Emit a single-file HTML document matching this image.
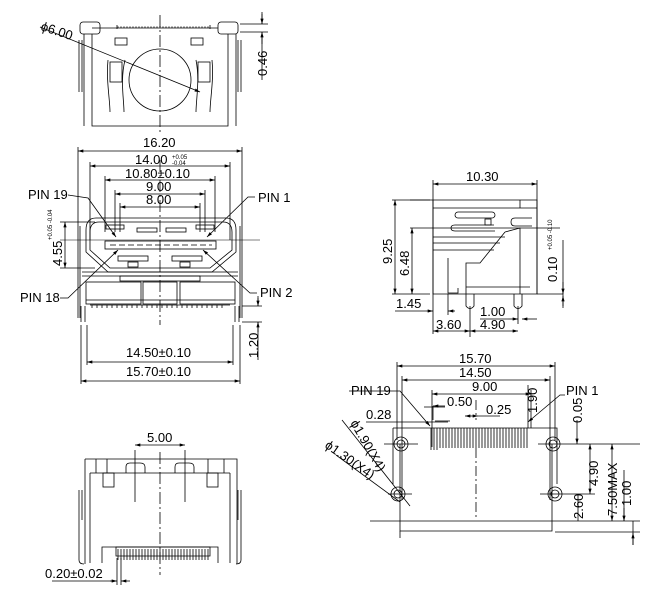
<!DOCTYPE html>
<html><head><meta charset="utf-8"><style>
html,body{margin:0;padding:0;background:#fff}
svg{display:block}
text{font-family:"Liberation Sans",sans-serif;fill:#000}
</style></head><body>
<svg width="656" height="599" viewBox="0 0 656 599" xmlns="http://www.w3.org/2000/svg">
<defs>
<marker id="a" viewBox="0 0 10 6" refX="10" refY="3" markerWidth="8" markerHeight="4" orient="auto-start-reverse"><path d="M0,0L10,3L0,6z" fill="#000"/></marker>
</defs>
<g stroke="#000" stroke-width="0.8" fill="none">
<!-- TOP VIEW -->
<rect x="80" y="22" width="20" height="12" rx="3"/>
<rect x="218" y="22" width="20" height="12" rx="3"/>
<path d="M92 28H218M92 34V126H228V34M84 34V126M236 34V126"/>
<path d="M79 40V92M82 40V92M238 40V92M241 40V92"/>
<path d="M117 25V29M210 25V29" />
<g stroke-width="0.6"><path d="M117 27H210" stroke-dasharray="2 1"/></g>
<rect x="115" y="38" width="12" height="7"/><rect x="191" y="38" width="12" height="7"/>
<path d="M108 60C106 80 110 100 110 112M125 60C120 80 124 100 124 112M196 60C200 80 196 100 196 112M212 60C214 80 210 100 210 112"/>
<rect x="110" y="62" width="12" height="20"/><rect x="198" y="62" width="12" height="20"/>
<circle cx="160" cy="80" r="31"/>
<path d="M160 15V135" stroke-dasharray="12 3 2 3"/>
<path d="M40 27L200 92" marker-end="url(#a)"/>
<path d="M240 24H268M240 32H268M262 12V24M262 32V80" />
<path d="M262 14V24" marker-end="url(#a)"/><path d="M262 44V32" marker-end="url(#a)"/>

<!-- FRONT VIEW -->
<path d="M78 151H242" marker-start="url(#a)" marker-end="url(#a)"/>
<path d="M78 147V318M242 147V318"/>
<path d="M90 166H230" marker-start="url(#a)" marker-end="url(#a)"/>
<path d="M90 162V240M230 162V240"/>
<path d="M105 180H215" marker-start="url(#a)" marker-end="url(#a)"/>
<path d="M105 176V232M215 176V232"/>
<path d="M115 194H205" marker-start="url(#a)" marker-end="url(#a)"/>
<path d="M115 190V232M205 190V232"/>
<path d="M120 207H200" marker-start="url(#a)" marker-end="url(#a)"/>
<path d="M120 203V232M200 203V232"/>
<path d="M60 222H95M60 268H95"/><path d="M65 222V268" marker-start="url(#a)" marker-end="url(#a)"/>
<path d="M80 226V318M240 226V318"/>
<path d="M96 218H226Q236 218 236 230V252L212 272H108L86 252V230Q86 218 96 218Z"/>
<path d="M99 222H223Q232 222 232 232V250L210 268H110L90 250V232Q90 222 99 222Z"/>
<rect x="105" y="241" width="111" height="8"/>
<path d="M110 245H212" stroke-dasharray="6 3"/>
<rect x="106" y="225" width="18" height="4"/><rect x="137" y="228" width="20" height="4"/><rect x="166" y="228" width="20" height="4"/><rect x="196" y="225" width="18" height="4"/>
<rect x="118" y="256" width="30" height="5"/><rect x="172" y="256" width="30" height="5"/>
<rect x="128" y="262" width="10" height="5"/><rect x="180" y="262" width="10" height="5"/>
<path d="M60 240H260" stroke-width="0.5"/>
<path d="M82 272H238M82 276H238"/>
<rect x="120" y="276" width="80" height="5"/>
<rect x="86" y="282" width="55" height="22"/><rect x="143" y="282" width="34" height="22"/><rect x="180" y="282" width="55" height="22"/>
<path d="M86 300H235M90 305H230" />
<path d="M92 305V308M97 305V308M102 305V308M107 305V308M112 305V308M117 305V308M122 305V308M127 305V308M132 305V308M137 305V308M142 305V308M147 305V308M152 305V308M157 305V308M162 305V308M167 305V308M172 305V308M177 305V308M182 305V308M187 305V308M192 305V308M197 305V308M202 305V308M207 305V308M212 305V308M217 305V308M222 305V308"/>
<path d="M81 306V322M85 306V322M235 306V322M239 306V322"/>
<path d="M160 160V325" stroke-dasharray="12 3 2 3"/>
<path d="M242 306H262M242 322H262M258 296V306M258 322V360"/>
<path d="M258 298V306" marker-end="url(#a)"/><path d="M258 332V322" marker-end="url(#a)"/>
<path d="M87 325V365M233 325V365M81 325V384M240 325V384"/>
<path d="M87 362H233" marker-start="url(#a)" marker-end="url(#a)"/>
<path d="M81 381H240" marker-start="url(#a)" marker-end="url(#a)"/>
<path d="M68 195L88 198L116 237" marker-end="url(#a)"/>
<path d="M255 197H248L207 237" marker-end="url(#a)"/>
<path d="M60 298H68L118 250" marker-end="url(#a)"/>
<path d="M257 293H250L203 250" marker-end="url(#a)"/>

<!-- BOTTOM-LEFT VIEW -->
<path d="M135 445H185" marker-start="url(#a)" marker-end="url(#a)"/>
<path d="M135 450V502M185 450V502"/>
<path d="M85 459H237V564M85 459V564"/>
<path d="M90 473H230M90 473V563M230 473V563M96 459V473M107 459V473M208 459V473M224 459V473"/>
<path d="M126 473V467Q126 463 130 463H140Q145 463 145 467V473M175 473V467Q175 463 179 463H189Q194 463 194 467V473"/>
<rect x="103" y="473" width="11" height="14"/><rect x="207" y="473" width="11" height="14"/>
<path d="M79 490V560Q79 564 84 564M241 490V560Q241 564 236 564M82 490V520M238 490V520"/>
<path d="M102 563V547H218V563"/>
<path d="M116 547H210V556H116Z"/>
<path d="M118 549V560M121 549V560M124 549V560M127 549V560M130 549V560M133 549V560M136 549V560M139 549V560M142 549V560M145 549V560M148 549V560M151 549V560M154 549V560M157 549V560M160 549V560M163 549V560M166 549V560M169 549V560M172 549V560M175 549V560M178 549V560M181 549V560M184 549V560M187 549V560M190 549V560M193 549V560M196 549V560M199 549V560M202 549V560M205 549V560M208 549V560"/>
<path d="M160 452V575" stroke-dasharray="12 3 2 3"/>
<path d="M117 558V585M121 558V585M52 581H112"/>
<path d="M110 581H117" marker-end="url(#a)"/><path d="M130 581H121" marker-end="url(#a)"/>

<!-- SIDE VIEW -->
<path d="M433 184H537" marker-start="url(#a)" marker-end="url(#a)"/>
<path d="M433 180V334M537 180V294"/>
<path d="M410 200H537V294H433V200"/>
<path d="M433 208H537M520 200V208"/>
<rect x="455" y="212" width="40" height="6" rx="3"/><path d="M455 225H494M455 225Q451 225 451 228Q451 231 455 231H495"/><rect x="485" y="219" width="6" height="6"/>
<path d="M515 226H532M515 226Q511 226 511 222Q511 218 515 218H532"/>
<path d="M433 237H505M433 243H500M433 250H494"/>
<path d="M505 232L520 228V294M505 232L480 263H466V294"/>
<path d="M448 258V293H458V288"/>
<path d="M466 287H530"/>
<path d="M466 294V306Q470 311 474 306V294M514 294V306Q518 311 522 306V294"/>
<path d="M410 228H560"/>
<path d="M392 200H430M392 294H430"/>
<path d="M395 200V294" marker-start="url(#a)" marker-end="url(#a)"/>
<path d="M412 228V294" marker-start="url(#a)" marker-end="url(#a)"/>
<path d="M537 294H563M563 240V306"/>
<path d="M563 282V294" marker-end="url(#a)"/><path d="M563 308V296" marker-end="url(#a)"/>
<path d="M395 311H426"/><path d="M426 311H433" marker-end="url(#a)"/><path d="M455 311H448" marker-end="url(#a)"/>
<path d="M448 294V315"/>
<path d="M470 306V337M518 306V324"/>
<path d="M433 331H470" marker-start="url(#a)" marker-end="url(#a)"/>
<path d="M470 331H518" marker-start="url(#a)" marker-end="url(#a)"/>
<path d="M508 319H518" marker-end="url(#a)"/><path d="M537 319H522" marker-end="url(#a)"/>
<path d="M480 319H508"/>

<!-- BOTTOM-RIGHT VIEW -->
<path d="M397 366H555" marker-start="url(#a)" marker-end="url(#a)"/>
<path d="M397 362V440M555 362V440"/>
<path d="M402 380H550" marker-start="url(#a)" marker-end="url(#a)"/>
<path d="M402 376V500M550 376V500"/>
<path d="M432 394H531" marker-start="url(#a)" marker-end="url(#a)"/>
<path d="M432 390V447M531 390V428"/>
<path d="M393 428H557V484M393 428V484"/>
<path d="M400 444V531H552V444"/>
<path d="M370 521H640"/>
<path d="M431 428V450M434 428V450M437 428V450M440 428V448M443 428V448M446 428V448M449 428V448M452 428V448M455 428V448M458 428V448M461 428V448M464 428V448M467 428V448M470 428V448M473 428V448M476 428V448M479 428V448M482 428V448M485 428V448M488 428V448M491 428V448M494 428V448M497 428V448M500 428V448M503 428V448M506 428V448M509 428V448M512 428V448M515 428V448M518 428V448M521 428V448M524 428V448M527 428V448"/>
<path d="M476 400V420M476 448V520" stroke-dasharray="10 3 2 3"/>
<circle cx="401" cy="444" r="7"/><circle cx="401" cy="444" r="4"/>
<circle cx="553" cy="444" r="7"/><circle cx="553" cy="444" r="4"/>
<circle cx="398" cy="494" r="7"/><circle cx="398" cy="494" r="4"/>
<circle cx="555" cy="494" r="7"/><circle cx="555" cy="494" r="4"/>
<path d="M384 444H418M388 494H412M540 494H570M538 444H640"/>
<path d="M433 406H445" marker-start="url(#a)"/><path d="M424 407H445M433 406V420"/>
<path d="M435 421H450"/><path d="M366 422H448"/>
<path d="M465 416H478" marker-start="url(#a)" marker-end="url(#a)"/><path d="M478 416H500"/>
<path d="M528 385V428M528 390V412"/>
<path d="M349 391H400L430 426" marker-end="url(#a)"/>
<path d="M565 395H560L528 422" marker-end="url(#a)"/>
<path d="M342 420L410 506"/><path d="M336 455L400 502"/>
<path d="M577 420V444" marker-end="url(#a)"/>
<path d="M590 444V494" marker-start="url(#a)" marker-end="url(#a)"/>
<path d="M570 494H595M578 494V521"/>
<path d="M612 444V521" marker-start="url(#a)" marker-end="url(#a)"/>
<path d="M624 470V521M633 521V545"/>
<path d="M624 508V521" marker-end="url(#a)"/><path d="M633 545V533" marker-end="url(#a)"/>
<path d="M555 532H640"/>
<path d="M400 531V538"/>
</g>
<g font-size="13">
<text x="40" y="30" transform="rotate(18 40 30)">ϕ6.00</text>
<text x="267" y="76" transform="rotate(-90 267 76)">0.46</text>
<text x="143" y="147">16.20</text>
<text x="135" y="164">14.00</text><text x="172" y="159" font-size="6">+0.05</text><text x="172" y="165" font-size="6">-0.04</text>
<text x="125" y="178">10.80±0.10</text>
<text x="146" y="191">9.00</text>
<text x="146" y="204">8.00</text>
<text x="28" y="199">PIN 19</text>
<text x="258" y="202">PIN 1</text>
<text x="20" y="302">PIN 18</text>
<text x="260" y="297">PIN 2</text>
<text x="62" y="266" transform="rotate(-90 62 266)">4.55</text>
<text x="52" y="240" font-size="6" transform="rotate(-90 52 240)">+0.05 -0.04</text>
<text x="258" y="358" transform="rotate(-90 258 358)">1.20</text>
<text x="126" y="357">14.50±0.10</text>
<text x="126" y="376">15.70±0.10</text>
<text x="147" y="442">5.00</text>
<text x="45" y="578">0.20±0.02</text>
<text x="466" y="181">10.30</text>
<text x="392" y="264" transform="rotate(-90 392 264)">9.25</text>
<text x="409" y="276" transform="rotate(-90 409 276)">6.48</text>
<text x="557" y="282" transform="rotate(-90 557 282)">0.10</text>
<text x="552" y="250" font-size="6" transform="rotate(-90 552 250)">+0.05 -0.10</text>
<text x="396" y="308">1.45</text>
<text x="436" y="329">3.60</text>
<text x="480" y="316">1.00</text>
<text x="480" y="329">4.90</text>
<text x="459" y="363">15.70</text>
<text x="459" y="377">14.50</text>
<text x="472" y="391">9.00</text>
<text x="351" y="395">PIN 19</text>
<text x="566" y="395">PIN 1</text>
<text x="447" y="406">0.50</text>
<text x="486" y="414">0.25</text>
<text x="366" y="419">0.28</text>
<text x="537" y="413" transform="rotate(-90 537 413)">1.90</text>
<text x="582" y="423" transform="rotate(-90 582 423)">0.05</text>
<text x="598" y="486" transform="rotate(-90 598 486)">4.90</text>
<text x="617" y="516" transform="rotate(-90 617 516)">7.50MAX</text>
<text x="631" y="506" transform="rotate(-90 631 506)">1.00</text>
<text x="583" y="519" transform="rotate(-90 583 519)">2.60</text>
<text x="350" y="423" transform="rotate(60 350 423)">ϕ1.90(X4)</text>
<text x="324" y="447" transform="rotate(35 324 447)">ϕ1.30(X4)</text>
</g>
</svg>
</body></html>
